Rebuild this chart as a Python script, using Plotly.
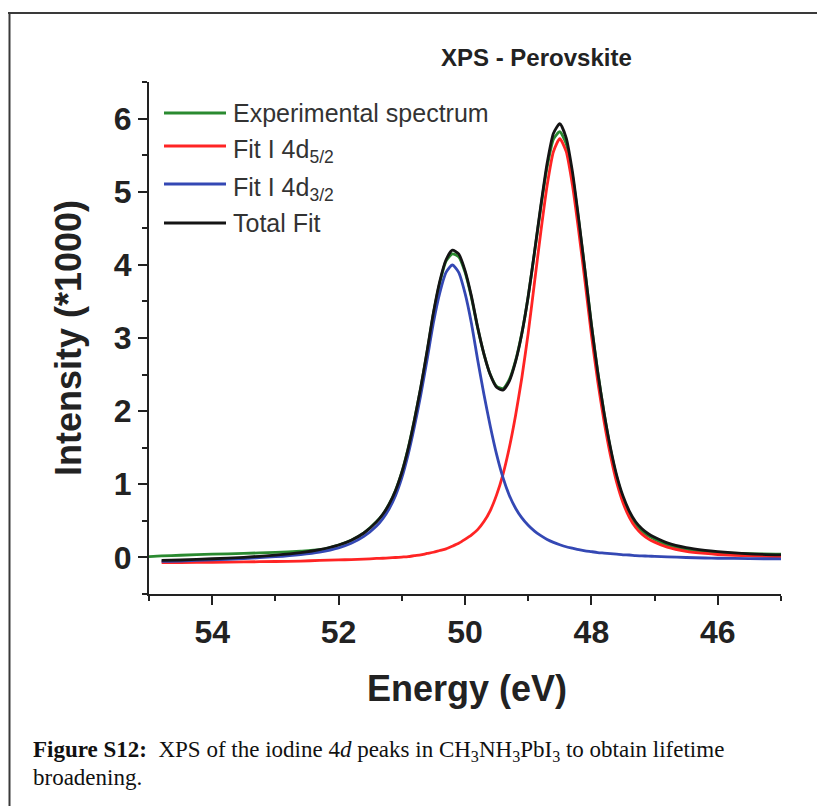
import plotly.graph_objects as go

# Binding energy grid (eV) and intensities (counts / 1000)
energy = [55.0, 54.8, 54.5, 54.0, 53.5, 53.0, 52.6, 52.3, 52.0, 51.8, 51.6,
          51.4, 51.3, 51.2, 51.1, 51.0, 50.9, 50.8, 50.7, 50.6, 50.5,
          50.4, 50.3, 50.2, 50.1, 50.0, 49.9, 49.8, 49.7, 49.6, 49.5,
          49.4, 49.3, 49.2, 49.1, 49.0, 48.9, 48.8, 48.7, 48.6, 48.5,
          48.4, 48.3, 48.2, 48.1, 48.0, 47.9, 47.8, 47.7, 47.6, 47.5,
          47.4, 47.3, 47.2, 47.1, 47.0, 46.8, 46.5, 46.2, 46.0, 45.5, 45.0]

experimental = [0.01, 0.02, 0.03, 0.045, 0.055, 0.07, 0.085, 0.105, 0.17, 0.235, 0.335,
                0.49, 0.59, 0.73, 0.915, 1.165, 1.49, 1.885, 2.32, 2.81, 3.33,
                3.75, 4.05, 4.15, 4.11, 3.90, 3.56, 3.14, 2.78, 2.50, 2.34,
                2.31, 2.43, 2.69, 3.07, 3.57, 4.17, 4.79, 5.34, 5.72, 5.82,
                5.66, 5.22, 4.60, 3.91, 3.19, 2.54, 1.98, 1.49, 1.10, 0.81,
                0.60, 0.455, 0.36, 0.295, 0.25, 0.17, 0.115, 0.08, 0.065, 0.05, 0.045]

fit_i4d_5_2 = [None, -0.070, -0.069, -0.066, -0.061, -0.056, -0.050, -0.041, -0.034, -0.029, -0.023,
               -0.014, -0.011, -0.007, -0.001, 0.005, 0.011, 0.024, 0.035, 0.054, 0.071,
               0.095, 0.118, 0.154, 0.194, 0.247, 0.305, 0.380, 0.490, 0.641, 0.855,
               1.132, 1.496, 1.941, 2.461, 3.067, 3.760, 4.453, 5.088, 5.550, 5.724,
               5.551, 5.090, 4.456, 3.764, 3.043, 2.409, 1.861, 1.400, 1.025, 0.748,
               0.548, 0.409, 0.318, 0.254, 0.209, 0.141, 0.084, 0.054, 0.040, 0.020, 0.010]

fit_i4d_3_2 = [None, -0.052, -0.049, -0.033, -0.016, 0.010, 0.040, 0.074, 0.131, 0.193, 0.287,
               0.430, 0.531, 0.665, 0.844, 1.087, 1.404, 1.789, 2.222, 2.701, 3.207,
               3.613, 3.897, 3.998, 3.898, 3.614, 3.210, 2.704, 2.226, 1.794, 1.409,
               1.094, 0.851, 0.673, 0.540, 0.439, 0.359, 0.298, 0.246, 0.206, 0.174,
               0.146, 0.126, 0.106, 0.091, 0.079, 0.067, 0.059, 0.051, 0.044, 0.036,
               0.033, 0.025, 0.021, 0.018, 0.014, 0.007, -0.001, -0.008, -0.011, -0.017, -0.019]

total_fit = [None, -0.040, -0.035, -0.018, 0.002, 0.031, 0.065, 0.107, 0.170, 0.236, 0.334,
             0.486, 0.590, 0.728, 0.912, 1.161, 1.483, 1.880, 2.325, 2.821, 3.345,
             3.773, 4.07, 4.20, 4.15, 3.925, 3.579, 3.148, 2.780, 2.497, 2.326,
             2.288, 2.408, 2.676, 3.061, 3.567, 4.178, 4.811, 5.393, 5.80, 5.93,
             5.74, 5.273, 4.619, 3.911, 3.178, 2.531, 1.975, 1.507, 1.123, 0.839,
             0.634, 0.488, 0.392, 0.324, 0.275, 0.199, 0.133, 0.095, 0.078, 0.049, 0.035]

series_names = ["Experimental spectrum", "Fit I 4d<sub>5/2</sub>",
                "Fit I 4d<sub>3/2</sub>", "Total Fit"]
series_values = [experimental, fit_i4d_5_2, fit_i4d_3_2, total_fit]
series_colors = ["#2a8a30", "#ff2424", "#3448b4", "#141414"]

x_major_ticks = [54, 52, 50, 48, 46]
y_major_ticks = [0, 1, 2, 3, 4, 5, 6]

# Page geometry (pixels)
W, H = 817, 806
ML, MR, MT, MB = 149, 36, 82, 212
PW, PH = W - ML - MR, H - MT - MB
AX_BOTTOM = H - MB


def px(x):
    return (x - ML) / PW


def py(y):
    return (AX_BOTTOM - y) / PH


SANS = "Liberation Sans, Arial, sans-serif"
SERIF = "Liberation Serif, Times New Roman, serif"
INK = "#222222"

fig = go.Figure()
for name, vals, col in zip(series_names, series_values, series_colors):
    fig.add_trace(go.Scatter(
        x=energy, y=vals, name=name, mode="lines",
        line=dict(color=col, width=2.8, shape="spline", smoothing=0.6),
        showlegend=False, connectgaps=False,
    ))

axis_common = dict(
    showline=True, linecolor=INK, linewidth=2, mirror=False,
    ticks="outside", ticklen=9, tickwidth=2, tickcolor=INK,
    showgrid=False, zeroline=False,
    tickfont=dict(family=SANS, size=32, color=INK, weight="bold"),
)

fig.update_xaxes(
    range=[55, 45], autorange=False, tickmode="array", tickvals=x_major_ticks,
    minor=dict(dtick=1, tick0=0, ticks="outside", ticklen=5, tickwidth=2, tickcolor=INK),
    ticklabelstandoff=0, **axis_common,
)
fig.update_yaxes(
    range=[-0.5, 6.5], autorange=False, tickmode="array", tickvals=y_major_ticks,
    minor=dict(dtick=0.5, tick0=0, ticks="outside", ticklen=5, tickwidth=2, tickcolor=INK),
    ticklabelstandoff=0, **axis_common,
)

annotations = [
    dict(text="<b>XPS - Perovskite</b>", x=px(536), y=py(57),
         font=dict(family=SANS, size=24, color=INK)),
    dict(text="<b>Energy (eV)</b>", x=px(467), y=py(688),
         font=dict(family=SANS, size=36, color=INK)),
    dict(text="<b>Intensity (*1000)</b>", x=px(68), y=py(338), textangle=-90,
         font=dict(family=SANS, size=36, color=INK)),
]
for a in annotations:
    a.update(xref="paper", yref="paper", xanchor="center", yanchor="middle",
             showarrow=False)

shapes = []
# Hand-placed legend: line sample + label per series
legend_rows = [113, 146, 184, 223]
legend_shift = [0, -5, -5, 0]
for name, col, ry, sh in zip(series_names, series_colors, legend_rows, legend_shift):
    shapes.append(dict(type="line", xref="paper", yref="paper",
                       x0=px(164), x1=px(226), y0=py(ry), y1=py(ry),
                       line=dict(color=col, width=3)))
    annotations.append(dict(text=name, xref="paper", yref="paper",
                            x=px(231), y=py(ry), yshift=sh,
                            xanchor="left", yanchor="middle", showarrow=False,
                            font=dict(family=SANS, size=25, color="#333333")))

# Caption
caption_lines = [
    "<b>Figure S12:</b>\u00a0 XPS of the iodine 4<i>d</i> peaks in "
    "CH<sub>3</sub>NH<sub>3</sub>PbI<sub>3</sub> to obtain lifetime",
    "broadening.",
]
for line, cy in zip(caption_lines, [751, 777]):
    annotations.append(dict(text=line, xref="paper", yref="paper",
                            x=px(31), y=py(cy), xanchor="left", yanchor="middle",
                            showarrow=False,
                            font=dict(family=SERIF, size=23, color="#111111")))

# Page frame (top and left rules)
shapes.append(dict(type="line", xref="paper", yref="paper",
                   x0=px(8), x1=px(817), y0=py(13), y1=py(13),
                   line=dict(color="#3a3a3a", width=2)))
shapes.append(dict(type="line", xref="paper", yref="paper",
                   x0=px(9.5), x1=px(9.5), y0=py(12), y1=py(806),
                   line=dict(color="#3a3a3a", width=2)))

fig.update_layout(
    width=W, height=H,
    margin=dict(l=ML, r=MR, t=MT, b=MB, pad=0),
    paper_bgcolor="white", plot_bgcolor="white",
    annotations=annotations, shapes=shapes,
    showlegend=False,
)

fig.write_html("out.html")
